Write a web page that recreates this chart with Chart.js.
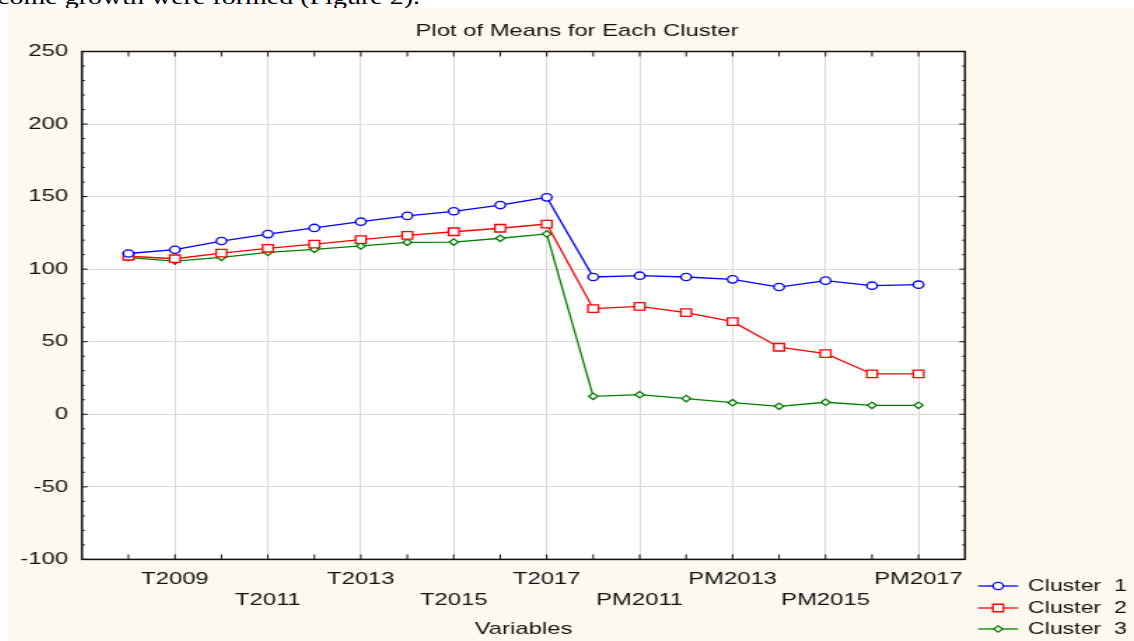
<!DOCTYPE html>
<html><head><meta charset="utf-8">
<script src="https://cdn.jsdelivr.net/npm/chart.js@4.4.1/dist/chart.umd.min.js"></script>
<style>
html,body{margin:0;padding:0;background:#fff;width:1134px;height:641px;overflow:hidden;}
#caption{position:absolute;left:-3px;top:-13px;font:20px 'Liberation Serif','Times New Roman',serif;line-height:20px;white-space:nowrap;transform:scaleX(1.4);transform-origin:0 0;color:#000;}
#panel{position:absolute;left:8px;top:8px;width:1126px;height:633px;background:#FDF9EE;overflow:hidden;}
#stretch{position:absolute;left:0;top:0;width:804px;height:633px;transform:scaleX(1.40049);transform-origin:0 0;}
canvas{display:block;}
</style></head><body>
<div id="caption">come growth were formed (Figure 2).</div>
<div id="panel"><div id="stretch"><canvas id="c" width="804" height="633" style="width:804px;height:633px"></canvas></div></div>
<script>
const variables = ['T2008','T2009','T2010','T2011','T2012','T2013','T2014','T2015','T2016','T2017',
                   'PM2010','PM2011','PM2012','PM2013','PM2014','PM2015','PM2016','PM2017'];
const cluster1 = [110.8,113.4,119.4,124.2,128.4,132.7,136.7,139.9,144.2,149.5,
                  94.6,95.5,94.6,93.0,87.7,92.1,88.6,89.3];
const cluster2 = [108.9,107.2,111.0,114.4,117.2,120.3,123.3,125.8,128.2,131.1,
                  72.8,74.4,70.0,63.8,46.2,41.8,27.8,27.8];
const cluster3 = [107.9,105.6,108.2,111.6,113.7,116.0,118.5,118.7,121.3,124.3,
                  12.4,13.5,10.8,8.0,5.5,8.3,6.2,6.2];
const seriesNames = ['Cluster  1','Cluster  2','Cluster  3'];
const yTicks = [-100,-50,0,50,100,150,200,250];
const titleText = 'Plot of Means for Each Cluster';
const xTitle = 'Variables';

const FONT = "'Liberation Sans', Arial, sans-serif";
const toPts = arr => arr.map((v,i)=>({x:i+1,y:v}));

const framePlugin = {
  id:'frame',
  beforeDraw(chart){
    const {ctx, chartArea:a} = chart;
    ctx.save(); ctx.fillStyle='#ffffff';
    ctx.fillRect(a.left,a.top,a.right-a.left,a.bottom-a.top);
    ctx.restore();
  },
  afterDraw(chart){
    const {ctx, chartArea:a, scales} = chart;
    const xs = scales.x, ys = scales.y;
    ctx.save();
    ctx.strokeStyle='#111'; ctx.lineWidth=1.5;
    ctx.strokeRect(a.left,a.top,a.right-a.left,a.bottom-a.top);
    ctx.lineWidth=1;
    ctx.beginPath();
    for(let v=yTicks[0]; v<=yTicks[yTicks.length-1]; v+=10){
      const p = ys.getPixelForValue(v);
      const len = (v%50===0)?4:2;
      ctx.moveTo(a.left,p); ctx.lineTo(a.left+len,p);
      ctx.moveTo(a.right,p); ctx.lineTo(a.right-len,p);
    }
    for(let i=1;i<=variables.length;i++){
      const p = xs.getPixelForValue(i);
      ctx.moveTo(p,a.bottom); ctx.lineTo(p,a.bottom-5);
      ctx.moveTo(p,a.top); ctx.lineTo(p,a.top+5);
    }
    ctx.stroke();
    // legend
    const rows=[26.6,48.6,69.6];
    ctx.font = '16.5px '+FONT; ctx.textBaseline='middle'; ctx.textAlign='left';
    chart.data.datasets.forEach((ds,k)=>{
      const y = a.bottom+rows[k];
      const x0 = a.right+9.4, x1 = a.right+38, xm=(x0+x1)/2;
      ctx.strokeStyle=ds.borderColor; ctx.lineWidth=1.3;
      ctx.beginPath(); ctx.moveTo(x0,y); ctx.lineTo(x1,y); ctx.stroke();
      ctx.fillStyle='#fff';
      Chart.helpers.drawPoint(ctx,{pointStyle:ds.pointStyle,radius:ds.pointRadius,rotation:0,borderWidth:1.3},xm,y);
      ctx.fillStyle='#111';
      ctx.fillText(ds.label,a.right+45,y+0.5);
    });
    ctx.restore();
  }
};

new Chart(document.getElementById('c'),{
  type:'line',
  data:{datasets:[
    {label:seriesNames[0],data:toPts(cluster1),borderColor:'#0000FF',backgroundColor:'#fff',pointStyle:'circle',pointRadius:3.7,pointBorderWidth:1.3,borderWidth:1.3,pointBackgroundColor:'#fff'},
    {label:seriesNames[1],data:toPts(cluster2),borderColor:'#FF0000',backgroundColor:'#fff',pointStyle:'rect',pointRadius:5.3,pointBorderWidth:1.3,borderWidth:1.3,pointBackgroundColor:'#fff'},
    {label:seriesNames[2],data:toPts(cluster3),borderColor:'#008000',backgroundColor:'#fff',pointStyle:'rectRot',pointRadius:3.2,pointBorderWidth:1.3,borderWidth:1.3,pointBackgroundColor:'#fff'}
  ]},
  options:{
    responsive:false, animation:false,
    layout:{padding:{left:8.6,right:0,top:0,bottom:0}},
    plugins:{
      legend:{display:false}, tooltip:{enabled:false},
      title:{display:true,text:titleText,color:'#111',font:{family:FONT,size:17,weight:'normal'},padding:{top:13,bottom:10.1}}
    },
    scales:{
      x:{type:'linear',position:'bottom',min:0,max:variables.length+1,
        afterFit(s){s.height=81.6;},
        grid:{drawTicks:false,color:c=>{const v=c.tick&&c.tick.value;return (v>=2&&v<=variables.length&&v%2===0)?'#d9d9d9':'rgba(0,0,0,0)';},lineWidth:1},
        border:{display:false},
        ticks:{stepSize:1,autoSkip:false,maxRotation:0,minRotation:0,padding:9,color:'#111',
          font:{family:FONT,size:17,lineHeight:1.24},
          callback:v=>{const i=v-1; if(v%2===0&&i>=0&&i<variables.length){return ((v/2)%2===1)?variables[i]:['',variables[i]];} return '';}},
        title:{display:true,text:xTitle,color:'#111',font:{family:FONT,size:17},padding:{top:0,bottom:1.5}}
      },
      y:{type:'linear',position:'left',min:yTicks[0],max:yTicks[yTicks.length-1],
        afterFit(s){s.width=44.24;},
        grid:{drawTicks:false,color:c=>{const v=c.tick&&c.tick.value;return (v===yTicks[0]||v===yTicks[yTicks.length-1])?'rgba(0,0,0,0)':'#d9d9d9';},lineWidth:1},
        border:{display:false},
        ticks:{stepSize:50,padding:10,color:'#111',font:{family:FONT,size:17}}
      },
      yr:{type:'linear',position:'right',display:true,
        afterFit(s){s.width=120.7;},
        grid:{display:false},border:{display:false},ticks:{display:false}}
    }
  },
  plugins:[framePlugin]
});
</script>
</body></html>
